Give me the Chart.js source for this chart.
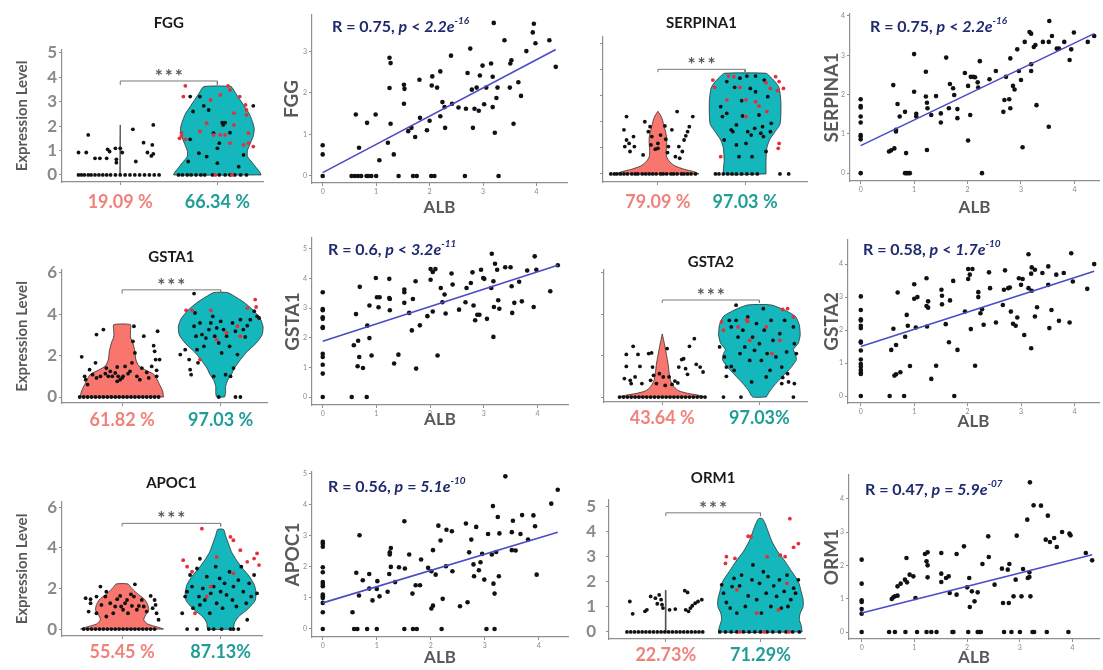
<!DOCTYPE html>
<html>
<head>
<meta charset="utf-8">
<script src="https://cdn.jsdelivr.net/npm/chart.js@4.4.0/dist/chart.umd.min.js"></script>
<style>
html, body { margin: 0; padding: 0; background: #fff; width: 1103px; height: 670px; overflow: hidden; }
canvas { position: absolute; left: 0; top: 0; }
</style>
</head>
<body>
<script>
// ---------- data ----------

// FGG
const fggPct = ['19.09 %', '66.34 %'];
const fggRedY = [0, 2.05];
const fggRedW = [0.004, 0.002];
const fggTealY = [0, 0.1, 0.25, 0.5, 0.75, 1.0, 1.3, 1.6, 1.9, 2.2, 2.5, 2.8, 3.1, 3.4, 3.62];
const fggTealW = [0.45, 0.44, 0.41, 0.36, 0.31, 0.31, 0.34, 0.37, 0.38, 0.36, 0.33, 0.28, 0.23, 0.18, 0.14];
const fggRedPts = [[0.57,0],[0.6,0],[0.63,0],[0.67,0],[0.7,0],[0.74,0],[0.78,0],[0.82,0],[0.86,0],[0.9,0],[0.95,0],[1.0,0],[1.05,0],[1.1,0],[1.15,0],[1.2,0],[1.25,0],[1.3,0],[1.35,0],[1.4,0],
  [0.67,1.64],[0.57,0.92],[0.65,0.92],[0.74,0.68],[0.79,0.68],[0.86,0.68],[0.87,1.05],[0.89,0.96],[0.95,1.09],[0.96,0.5],[0.96,0.64],[1.0,1.09],[1.02,0.92],[1.13,1.87],[1.16,0.55],[1.24,1.32],[1.28,0.92],[1.33,1.23],[1.32,0.78],[1.34,2.05],[1.34,0.86]];
const fggTealPts = [[1.6,0],[1.64,0],[1.69,0],[1.73,0],[1.78,0],[1.83,0],[1.87,0],[1.95,0],[2.02,0],[2.08,0],[2.13,0],[2.18,0],[2.24,0],[2.3,0],
  [1.72,1.46],[1.75,2.6],[1.72,3.21],[1.82,3.21],[1.86,2.83],[1.91,2.66],[2.05,2.14],[2.06,2.05],[2.08,2.14],[2.13,1.73],[2.37,2.83],[1.89,0.75],[1.81,0.89],[2.0,1.09],[2.0,0.48],[2.27,0.82],[2.22,0.34],[2.02,1.3],[1.96,1.71],[1.7,0.55]];
const fggTealRed = [[1.67,3.65],[1.65,3.21],[1.63,1.73],[1.61,1.5],[1.63,1.6],[1.67,1.46],[2.03,3.28],[2.11,3.65],[2.13,3.48],[2.23,3.21],[2.29,2.87],[2.3,2.66],[2.3,2.46],[2.32,1.71],[2.27,1.23],[2.37,1.16],[2.32,1.3],[1.96,1.64],[2.03,1.64],[2.08,1.64],[1.89,2.12],[2.17,2.05],[1.82,1.78],[1.93,3.07],[2.17,2.53],[2.13,1.3],[1.98,0],[2.15,0]];
const fggScatter = [[0,0],[0.54,0],[0.6,0],[0.66,0],[0.72,0],[0.82,0],[0.85,0],[0.91,0],[1.0,0],[1.42,0],[1.69,0],[1.76,0],[2.03,0],[2.09,0],[2.66,0],[3.29,0],
  [0,0.74],[0,0.52],[0.62,1.48],[0.68,0.68],[0.83,1.28],[0.99,1.48],[1.06,0.38],[1.22,0.8],[1.25,2.12],[1.25,2.85],[1.27,2.72],[1.27,1.26],[1.33,0.52],[1.52,2.2],[1.53,2.1],[1.52,1.74],[1.6,1.08],[1.66,1.16],[1.73,0.94],[1.81,2.32],[1.82,1.4],[1.95,1.1],[2.0,1.33],[2.05,2.4],[2.04,2.18],[2.14,2.13],[2.2,2.52],[2.2,1.44],[2.24,1.78],[2.28,1.66],[2.29,1.16],[2.4,2.9],[2.42,1.74],[2.54,1.65],[2.68,1.62],[2.71,2.48],[2.76,3.07],[2.79,2.08],[2.81,1.16],[2.84,1.62],[2.88,2.13],[2.92,1.57],[2.94,2.42],[2.99,2.66],[3.02,1.73],[3.06,2.13],[3.15,2.71],[3.18,2.39],[3.18,1.66],[3.2,3.69],[3.22,1.04],[3.25,1.88],[3.27,2.13],[3.4,3.27],[3.5,2.13],[3.51,2.71],[3.53,2.79],[3.57,1.26],[3.66,2.26],[3.71,1.93],[3.81,3.01],[3.93,3.46],[3.95,3.67],[3.98,3.2],[4.24,3.27],[4.36,2.63]];
const fggFit = [[0,0.08],[4.36,3.05]];
const fggStat = ['0.75', '<', '2.2', '-16'];

// SERPINA1
const serpPct = ['79.09 %', '97.03 %'];
const serpRedY = [0, 0.08, 0.18, 0.3, 0.45, 0.65, 0.9, 1.15, 1.4, 1.65, 1.9, 2.1, 2.25, 2.4];
const serpRedW = [0.47, 0.42, 0.3, 0.2, 0.14, 0.1, 0.095, 0.1, 0.1, 0.085, 0.065, 0.05, 0.03, 0];
const serpTealY = [0, 0.5, 1.0, 1.3, 1.6, 1.9, 2.3, 2.8, 3.3, 3.55, 3.75, 3.86];
const serpTealW = [0.24, 0.24, 0.25, 0.28, 0.34, 0.4, 0.41, 0.41, 0.39, 0.34, 0.28, 0.24];
const serpRedPts = [[0.46,0],[0.5,0],[0.53,0],[0.57,0],[0.61,0],[0.65,0],[0.7,0],[0.74,0],[0.77,0],[0.82,0],[0.86,0],[0.9,0],[0.94,0],[0.98,0],[1.03,0],[1.06,0],[1.1,0],[1.15,0],[1.18,0],[1.22,0],[1.27,0],[1.3,0],[1.34,0],[1.38,0],[1.43,0],
  [0.64,2.2],[0.61,1.69],[0.64,1.3],[0.62,1.05],[0.67,1.17],[0.72,1.43],[0.73,1.05],[0.68,0.86],[0.85,2.0],[0.89,1.62],[0.91,1.81],[0.92,1.11],[0.97,0.95],[1.0,1.17],[1.03,1.49],[1.08,1.84],[1.09,1.33],[1.12,1.05],[1.11,0.82],[1.16,1.69],[1.22,2.39],[1.2,0.66],[1.25,0.6],[1.28,0.86],[1.3,1.3],[1.32,1.46],[1.34,1.62],[1.36,1.81],[1.4,2.2],[1.24,1.05],[1.0,0.98],[0.93,1.43],[0.83,0.73]];
const serpTealPts = [[1.66,0],[1.7,0],[1.75,0],[1.8,0],[1.85,0],[1.9,0],[1.96,0],[2.02,0],[2.08,0],[2.14,0],[2.4,0],[2.5,0],
  [1.72,2.58],[1.74,2.2],[1.79,2.32],[1.84,1.69],[1.9,1.88],[1.93,0.66],[1.96,2.81],[1.97,2.22],[2.01,1.17],[2.03,1.62],[2.06,3.28],[2.07,1.49],[2.11,1.75],[2.12,3.15],[2.16,2.26],[2.18,1.56],[2.2,1.81],[2.21,1.43],[2.24,0.86],[2.26,2.96],[2.29,1.62],[2.3,1.94],[1.79,3.54],[1.88,3.32],[1.94,3.67],[2.02,3.75],[2.12,3.75],[2.22,3.6],[1.86,1.62],[1.9,1.11],[2.08,0.66],[1.76,1.3]];
const serpTealRed = [[1.63,3.6],[1.65,3.32],[1.72,0.66],[1.81,3.75],[1.87,3.73],[1.94,3.32],[2.01,2.84],[2.12,2.77],[2.16,2.6],[2.24,3.5],[2.29,3.28],[2.35,3.73],[2.39,3.54],[2.39,1.17],[2.38,0.98],[2.44,3.28],[2.37,3.19],[2.25,2.39],[2.01,2.2],[1.79,2.84]];
const serpScatter = [[0,0],[0.83,0],[0.86,0],[0.89,0],[0.92,0],[2.27,0],
  [0,1.88],[0,1.71],[0,1.67],[0,1.44],[0,1.29],[0,0.97],[0,0.93],[0,0.86],
  [0.53,0.55],[0.57,0.58],[0.63,0.63],[0.61,2.24],[0.66,1.06],[0.66,1.1],[0.69,1.76],[0.73,1.44],[0.83,1.56],[0.85,0.51],[1.0,3.03],[1.0,2.07],[1.04,1.51],[1.04,1.44],[1.22,2.58],[1.22,1.95],[1.24,1.79],[1.25,1.65],[1.24,0.59],[1.32,1.48],[1.41,1.96],[1.5,1.52],[1.5,1.29],[1.6,2.94],[1.65,1.65],[1.67,2.27],[1.73,2.16],[1.75,1.99],[1.81,1.63],[1.81,1.4],[1.95,2.55],[2.01,2.22],[2.01,0.83],[2.05,1.48],[2.06,2.45],[2.11,2.45],[2.14,2.44],[2.19,2.31],[2.2,2.18],[2.23,2.85],[2.41,2.39],[2.53,2.6],[2.69,1.86],[2.67,1.56],[2.72,2.45],[2.78,1.88],[2.8,1.65],[2.8,2.92],[2.85,2.22],[2.88,2.13],[2.93,3.15],[2.96,2.6],[3.0,2.37],[3.03,0.66],[3.07,3.34],[3.16,3.59],[3.19,3.55],[3.19,2.77],[3.19,2.6],[3.24,3.21],[3.27,3.26],[3.29,1.73],[3.41,3.34],[3.52,3.34],[3.52,1.18],[3.53,3.87],[3.58,3.49],[3.67,3.17],[3.71,3.17],[3.81,3.34],[3.91,2.88],[3.94,3.15],[3.99,3.58],[4.25,3.34],[4.37,3.49]];
const serpFit = [[0,0.7],[4.37,3.55]];
const serpStat = ['0.75', '<', '2.2', '-16'];

// GSTA1
const gsta1Pct = ['61.82 %', '97.03 %'];
const gsta1RedY = [0, 0.3, 0.6, 0.9, 1.1, 1.3, 1.5, 1.8, 2.2, 2.6, 2.9, 3.2, 3.5];
const gsta1RedW = [0.42, 0.41, 0.38, 0.35, 0.32, 0.24, 0.17, 0.14, 0.13, 0.11, 0.085, 0.085, 0.085];
const gsta1TealY = [0, 0.2, 0.5, 0.8, 1.1, 1.4, 1.8, 2.2, 2.6, 3.0, 3.4, 3.8, 4.2, 4.6, 4.9, 5.05];
const gsta1TealW = [0.04, 0.05, 0.05, 0.07, 0.11, 0.14, 0.2, 0.27, 0.36, 0.42, 0.43, 0.4, 0.33, 0.23, 0.13, 0.07];
const gsta1RedPts = [[0.57,0],[0.61,0],[0.65,0],[0.69,0],[0.73,0],[0.77,0],[0.81,0],[0.85,0],[0.89,0],[0.93,0],[0.97,0],[1.01,0],[1.05,0],[1.09,0],[1.13,0],[1.17,0],[1.21,0],[1.25,0],[1.29,0],[1.33,0],[1.37,0],
  [0.59,1.94],[0.62,1.0],[0.63,0.84],[0.65,0.6],[0.67,1.32],[0.7,1.08],[0.73,1.65],[0.74,3.02],[0.74,0.92],[0.78,1.0],[0.81,3.26],[0.83,1.13],[0.84,1.4],[0.86,1.0],[0.88,1.24],[0.93,1.16],[0.95,1.45],[0.96,1.0],[0.98,0.84],[1.0,0.92],[1.01,1.0],[1.03,1.48],[1.06,1.13],[1.08,1.24],[1.1,1.65],[1.11,2.69],[1.12,3.42],[1.13,2.13],[1.15,1.0],[1.18,0.84],[1.2,1.4],[1.22,2.94],[1.25,1.19],[1.27,0.92],[1.3,1.48],[1.32,2.48],[1.33,2.21],[1.34,1.81],[1.35,1.29],[1.35,1.0],[1.36,3.18],[1.38,1.81],[0.9,1.0],[0.95,0.76]];
const gsta1TealPts = [[1.98,0],[2.15,0],[2.2,0],
  [1.59,2.05],[1.64,2.29],[1.68,1.81],[1.69,1.32],[1.7,1.08],[1.73,3.42],[1.74,4.06],[1.75,2.94],[1.76,2.29],[1.77,1.65],[1.79,3.58],[1.81,3.02],[1.83,2.45],[1.85,2.85],[1.88,3.26],[1.9,3.58],[1.92,3.9],[1.94,2.94],[1.96,3.34],[1.98,2.61],[2.0,3.66],[2.01,2.13],[2.03,3.26],[2.05,1.08],[2.06,2.94],[2.09,2.45],[2.12,3.58],[2.13,1.4],[2.15,3.18],[2.17,2.05],[2.2,3.74],[2.23,3.26],[2.25,2.9],[2.27,3.45],[2.3,3.74],[2.34,4.15],[2.37,3.9],[2.39,3.82],[1.73,5.0],[1.93,1.0],[2.1,1.0]];
const gsta1TealRed = [[1.65,4.19],[1.71,4.19],[1.9,4.19],[1.96,2.77],[2.06,3.1],[2.2,2.94],[2.27,4.3],[2.35,4.71],[2.17,3.42],[1.79,1.81],[2.36,4.35]];
const gsta1Scatter = [[0,3.54],[0,2.97],[0,2.93],[0,2.69],[0,2.64],[0,2.36],[0,2.33],[0,1.46],[0,1.35],[0,1.09],[0,0.79],[0,0],[0.54,0],[0.82,0],
  [0.58,1.75],[0.62,2.8],[0.65,1.04],[0.66,1.9],[0.68,1.35],[0.69,3.72],[0.75,0.98],[0.83,2.41],[0.87,3.09],[0.87,1.99],[0.91,1.4],[0.99,4.02],[1.01,3.37],[1.04,3.03],[1.06,3.37],[1.24,3.99],[1.24,3.34],[1.25,3.31],[1.25,2.93],[1.33,1.13],[1.41,1.43],[1.52,3.63],[1.52,3.54],[1.52,3.18],[1.61,2.84],[1.66,2.25],[1.68,3.31],[1.73,3.91],[1.74,0.96],[1.81,2.42],[1.95,2.73],[2.01,3.96],[2.01,4.32],[2.05,4.22],[2.1,4.32],[2.05,2.89],[2.14,1.4],[2.2,3.68],[2.23,3.2],[2.27,3.46],[2.29,2.82],[2.4,4.17],[2.42,3.8],[2.54,2.95],[2.66,3.2],[2.68,3.68],[2.76,3.85],[2.79,4.21],[2.81,3.09],[2.84,2.59],[2.88,2.78],[2.92,2.78],[2.95,4.3],[2.99,4.02],[3.01,3.99],[3.06,2.64],[3.14,3.68],[3.15,4.84],[3.18,3.91],[3.18,2.03],[3.19,3.04],[3.21,4.5],[3.25,4.3],[3.27,3.27],[3.29,2.98],[3.4,4.38],[3.5,4.38],[3.52,3.74],[3.53,2.84],[3.57,3.18],[3.66,3.89],[3.71,3.23],[3.81,4.27],[3.93,3.04],[3.95,4.75],[3.98,4.3],[4.24,3.57],[4.38,4.45]];
const gsta1Fit = [[0,1.88],[4.38,4.45]];
const gsta1Stat = ['0.6', '<', '3.2', '-11'];

// GSTA2
const gsta2Pct = ['43.64 %', '97.03%'];
const gsta2RedY = [0, 0.08, 0.18, 0.3, 0.5, 0.8, 1.2, 1.6, 2.0, 2.5, 3.05];
const gsta2RedW = [0.45, 0.38, 0.26, 0.17, 0.12, 0.085, 0.07, 0.06, 0.045, 0.025, 0];
const gsta2TealY = [0, 0.3, 0.6, 1.0, 1.4, 1.8, 2.1, 2.3, 2.6, 3.0, 3.5, 3.9, 4.2, 4.45];
const gsta2TealW = [0.07, 0.11, 0.16, 0.24, 0.32, 0.38, 0.37, 0.35, 0.4, 0.42, 0.41, 0.37, 0.26, 0.12];
const gsta2RedPts = [[0.56,0],[0.6,0],[0.64,0],[0.68,0],[0.72,0],[0.76,0],[0.8,0],[0.84,0],[0.88,0],[0.92,0],[0.96,0],[1.0,0],[1.04,0],[1.08,0],[1.12,0],[1.16,0],[1.2,0],[1.24,0],[1.28,0],[1.32,0],[1.36,0],[1.4,0],[1.44,0],
  [0.63,2.06],[0.63,1.48],[0.61,0.89],[0.67,0.81],[0.68,0.65],[0.72,0.97],[0.7,2.45],[0.75,2.06],[0.77,1.48],[0.79,0.65],[0.86,2.1],[0.88,0.81],[0.89,2.13],[0.9,1.45],[0.91,1.05],[0.94,0.65],[0.97,1.13],[1.01,0.97],[1.03,0.56],[1.05,2.34],[1.07,0.97],[1.1,0.61],[1.13,0.77],[1.16,0.68],[1.17,1.45],[1.2,1.81],[1.22,1.85],[1.24,1.37],[1.26,1.1],[1.28,2.45],[1.33,2.82],[1.35,1.58],[1.39,1.45],[1.42,1.21]];
const gsta2TealPts = [[1.63,0],[1.81,0],[2.35,0],
  [1.59,2.42],[1.64,1.94],[1.66,1.45],[1.71,1.48],[1.74,1.29],[1.66,1.0],[1.71,3.39],[1.76,3.71],[1.78,2.9],[1.8,2.1],[1.83,3.23],[1.85,2.42],[1.88,3.87],[1.9,1.77],[1.92,0.73],[1.93,2.9],[1.95,2.26],[1.97,3.55],[2.0,2.58],[2.02,1.77],[2.04,4.27],[2.05,3.23],[2.08,2.1],[2.11,1.29],[2.12,3.71],[2.14,2.74],[2.17,1.94],[2.21,3.06],[2.23,1.45],[2.26,3.71],[2.28,2.18],[2.29,1.13],[2.35,3.39],[2.36,2.58],[2.38,2.1],[1.76,4.44],[1.69,3.71],[2.07,0.97],[2.24,0.94],[2.3,0.73],[2.23,0.65],[2.36,0.65]];
const gsta2TealRed = [[1.61,3.63],[1.63,3.23],[1.87,3.74],[1.88,3.66],[2.07,3.39],[2.24,4.23],[2.29,4.27],[2.35,3.87],[2.13,2.1],[1.9,2.74],[1.78,3.39],[2.21,2.74]];
const gsta2Scatter = [[0,3.02],[0,2.61],[0,2.33],[0,2.29],[0,2.13],[0,2.06],[0,1.65],[0,1.62],[0,1.38],[0,1.11],[0,0.97],[0,0.89],[0,0.79],[0,0.71],[0,0.67],[0,0],[0.54,0],[0.81,0],[1.75,0],
  [0.57,1.4],[0.61,2.04],[0.63,0.62],[0.66,1.55],[0.69,3.14],[0.66,0.66],[0.74,0.72],[0.83,1.8],[0.86,2.46],[0.88,2.13],[0.92,0.91],[1.0,3.39],[1.0,2.95],[1.03,2.08],[1.06,3.0],[1.23,3.57],[1.23,2.73],[1.24,2.11],[1.26,2.87],[1.26,2.68],[1.32,0.52],[1.41,0.92],[1.51,3.22],[1.52,3.04],[1.52,2.78],[1.59,2.18],[1.65,1.63],[1.67,2.9],[1.73,3.49],[1.81,1.4],[1.95,2.56],[2.01,3.85],[2.01,3.55],[2.04,3.68],[2.09,3.85],[2.06,2.03],[2.14,0.92],[2.2,3.15],[2.2,3.0],[2.24,2.51],[2.27,2.63],[2.3,2.16],[2.4,3.75],[2.42,3.27],[2.53,2.23],[2.66,2.76],[2.68,3.22],[2.7,3.81],[2.76,3.27],[2.79,3.29],[2.81,2.56],[2.85,2.19],[2.9,2.13],[2.93,2.38],[2.96,3.57],[3.0,3.37],[3.03,3.55],[3.06,1.85],[3.14,4.3],[3.14,3.27],[3.19,1.45],[3.19,3.71],[3.2,3.9],[3.2,3.19],[3.26,3.83],[3.26,2.41],[3.3,2.69],[3.4,3.73],[3.51,3.93],[3.51,3.37],[3.53,2.06],[3.57,2.61],[3.66,3.68],[3.71,2.28],[3.8,3.73],[3.91,2.23],[3.94,4.33],[3.97,3.47],[4.24,3.25],[4.37,4.0]];
const gsta2Fit = [[0,1.5],[4.37,3.78]];
const gsta2Stat = ['0.58', '<', '1.7', '-10'];

// APOC1
const apocPct = ['55.45 %', '87.13%'];
const apocRedY = [0, 0.1, 0.25, 0.45, 0.7, 0.95, 1.2, 1.45, 1.65, 1.85, 2.05, 2.22];
const apocRedW = [0.42, 0.36, 0.26, 0.22, 0.24, 0.27, 0.26, 0.23, 0.18, 0.13, 0.09, 0.06];
const apocTealY = [0, 0.3, 0.6, 1.0, 1.4, 1.8, 2.2, 2.6, 3.0, 3.4, 3.8, 4.2, 4.6, 4.9];
const apocTealW = [0.13, 0.14, 0.18, 0.28, 0.35, 0.36, 0.34, 0.29, 0.22, 0.16, 0.11, 0.08, 0.05, 0.03];
const apocRedPts = [[0.61,0],[0.65,0],[0.69,0],[0.73,0],[0.77,0],[0.81,0],[0.85,0],[0.89,0],[0.93,0],[0.97,0],[1.01,0],[1.05,0],[1.09,0],[1.13,0],[1.17,0],[1.21,0],[1.25,0],[1.29,0],[1.33,0],
  [0.63,1.52],[0.68,1.47],[0.68,1.27],[0.66,0.86],[0.74,0.78],[0.74,1.6],[0.78,2.09],[0.79,1.19],[0.83,1.6],[0.84,1.84],[0.88,1.27],[0.91,0.78],[0.93,1.11],[0.95,1.47],[0.98,1.63],[0.99,1.11],[1.01,0.95],[1.03,1.27],[1.05,1.43],[1.06,0.78],[1.09,1.71],[1.1,1.14],[1.12,1.6],[1.13,2.2],[1.15,0.95],[1.17,1.14],[1.2,1.43],[1.22,1.11],[1.25,0.86],[1.29,1.63],[1.31,1.03],[1.33,1.43],[1.34,1.19],[1.35,0.78],[1.37,0.46],[0.84,0.62]];
const apocTealPts = [[1.66,0],[1.76,0],[1.88,0],[1.93,0],[2.01,0],[2.1,0],[2.13,0],[2.18,0],
  [1.61,0.78],[1.64,1.6],[1.66,1.84],[1.69,2.66],[1.71,2.09],[1.72,1.03],[1.76,2.98],[1.78,1.6],[1.79,1.19],[1.82,2.0],[1.84,1.43],[1.86,2.58],[1.89,0.78],[1.9,1.76],[1.93,2.09],[1.95,3.07],[1.96,1.27],[1.99,2.49],[2.0,1.84],[2.02,1.03],[2.04,2.25],[2.06,1.68],[2.09,2.82],[2.12,1.43],[2.13,2.09],[2.16,1.11],[2.18,2.41],[2.21,3.07],[2.23,1.84],[2.26,1.27],[2.29,2.25],[2.31,1.6],[2.34,2.66],[2.37,1.76],[2.27,0.46],[1.79,3.46]];
const apocTealRed = [[1.81,4.94],[1.62,3.39],[1.66,3.07],[1.71,2.82],[2.1,4.53],[2.13,4.37],[2.2,3.88],[2.27,3.31],[2.34,3.47],[2.37,3.72],[2.39,3.15],[1.96,3.55],[1.9,2.09],[2.13,2.74],[1.74,0.78],[1.86,1.6]];
const apocScatter = [[0,2.81],[0,2.75],[0,2.65],[0,1.99],[0,1.83],[0,1.51],[0,1.45],[0,1.38],[0,1.11],[0,1.05],[0,1.0],[0,0.84],[0,0.54],[0,0],
  [0.55,0.54],[0.58,0],[0.64,0],[0.82,0],[1.0,0],[1.51,0],[1.67,0],[1.74,0],[2.2,0],[3.03,0],[3.18,0],
  [0.62,1.81],[0.67,1.08],[0.68,3.02],[0.74,1.57],[0.86,1.77],[0.86,1.3],[0.92,0.92],[1.0,1.29],[1.01,1.54],[1.05,1.05],[1.2,1.2],[1.23,1.77],[1.24,2.4],[1.26,2.61],[1.24,2.47],[1.26,2.0],[1.34,1.51],[1.41,1.99],[1.51,3.47],[1.52,1.95],[1.6,2.4],[1.66,1.14],[1.72,1.41],[1.8,1.41],[1.82,2.24],[1.95,1.97],[2.01,1.86],[2.01,0.66],[2.04,0.75],[2.04,2.54],[2.09,1.75],[2.14,3.33],[2.18,2.85],[2.22,0.97],[2.28,2.02],[2.29,3.2],[2.39,3.15],[2.4,1.86],[2.54,0.73],[2.65,3.4],[2.68,0.86],[2.71,2.47],[2.75,2.88],[2.8,1.7],[2.79,2.08],[2.84,3.29],[2.89,1.89],[2.92,2.15],[2.95,2.42],[2.99,1.59],[3.06,3.06],[3.13,2.4],[3.15,3.96],[3.16,1.46],[3.18,1.14],[3.21,2.48],[3.24,3.61],[3.26,1.7],[3.27,3.08],[3.38,4.92],[3.5,3.12],[3.52,3.49],[3.5,2.54],[3.57,2.53],[3.66,3.06],[3.69,3.67],[3.8,2.88],[3.9,3.66],[3.93,3.31],[3.96,1.75],[4.23,4.04],[4.35,4.49]];
const apocFit = [[0,0.84],[4.35,3.12]];
const apocStat = ['0.56', '=', '5.1', '-10'];

// ORM1
const ormPct = ['22.73%', '71.29%'];
const ormRedY = [0, 1.65];
const ormRedW = [0.004, 0.002];
const ormTealY = [0, 0.25, 0.5, 0.75, 1.0, 1.3, 1.6, 2.0, 2.4, 2.8, 3.2, 3.6, 4.0, 4.3, 4.5];
const ormTealW = [0.44, 0.43, 0.41, 0.42, 0.45, 0.45, 0.43, 0.4, 0.33, 0.26, 0.18, 0.12, 0.08, 0.05, 0.02];
const ormRedPts = [[0.59,0],[0.63,0],[0.67,0],[0.71,0],[0.75,0],[0.79,0],[0.83,0],[0.87,0],[0.91,0],[0.95,0],[0.99,0],[1.03,0],[1.07,0],[1.11,0],[1.15,0],[1.19,0],[1.23,0],[1.27,0],[1.31,0],[1.35,0],[1.39,0],
  [0.62,1.21],[0.65,0.72],[0.78,0.82],[0.8,0.88],[0.84,1.41],[0.89,1.34],[0.91,1.12],[0.93,1.47],[0.95,1.28],[0.96,1.08],[0.97,0.95],[1.04,0.88],[1.1,0.91],[1.2,1.64],[1.23,1.57],[1.21,0.88],[1.24,0.82],[1.26,0.95],[1.28,1.04],[1.31,1.14],[1.34,1.21],[1.38,1.28]];
const ormTealPts = [[1.57,0],[1.63,0],[1.69,0],[1.75,0],[1.82,0],[1.88,0],[1.94,0],[2.0,0],[2.07,0],[2.13,0],[2.2,0],[2.27,0],[2.34,0],[2.41,0],
  [1.59,1.87],[1.61,1.54],[1.64,1.17],[1.68,0.95],[1.7,1.8],[1.72,2.13],[1.75,0.75],[1.78,1.83],[1.8,2.26],[1.84,1.01],[1.87,1.43],[1.91,2.07],[1.92,2.66],[1.96,1.28],[1.99,1.93],[2.01,0.75],[2.03,2.39],[2.06,1.54],[2.08,2.2],[2.11,1.01],[2.14,1.83],[2.17,1.41],[2.2,2.07],[2.22,0.95],[2.25,1.61],[2.28,2.26],[2.29,1.01],[2.32,1.28],[2.35,1.74],[2.37,1.54],[2.4,2.07]];
const ormTealRed = [[1.63,2.72],[1.64,2.99],[1.73,2.92],[1.87,3.8],[1.9,3.78],[2.21,3.05],[2.26,2.99],[2.31,4.5],[2.35,3.36],[2.4,3.51],[1.75,1.67],[1.96,0.75],[2.07,2.99],[2.19,0.88],[2.28,1.93],[1.78,0],[2.04,0],[2.3,0]];
const ormScatter = [[0,2.17],[0,1.45],[0,0.95],[0,0.9],[0,0.69],[0,0.55],[0,0],
  [0.52,0],[0.63,0],[0.83,0],[1.05,0],[1.23,0],[1.32,0],[1.42,0],[1.72,0],[1.74,0],[2.02,0],[2.2,0],[2.23,0],[2.26,0],[2.7,0],[2.84,0],[3.0,0],[3.24,0],[3.27,0],[3.51,0],[3.92,0],
  [0.57,0.99],[0.6,1.04],[0.63,1.07],[0.68,1.09],[0.68,1.37],[0.74,1.45],[0.82,1.57],[0.85,2.22],[0.86,1.49],[0.91,1.72],[0.98,1.67],[1.02,1.02],[1.2,2.34],[1.23,2.12],[1.25,2.39],[1.25,2.0],[1.25,1.64],[1.51,2.37],[1.51,1.75],[1.51,1.5],[1.6,1.62],[1.65,1.67],[1.67,1.17],[1.8,2.34],[1.8,1.12],[1.94,2.57],[2.0,1.34],[2.04,1.62],[2.05,0.75],[2.09,1.22],[2.14,0.92],[2.2,1.19],[2.29,2.04],[2.4,2.87],[2.41,2.25],[2.52,1.42],[2.66,1.9],[2.68,0.87],[2.77,1.87],[2.79,0.87],[2.8,2.04],[2.88,1.07],[2.92,1.57],[2.94,2.89],[3.03,1.07],[3.06,1.89],[3.14,3.37],[3.15,1.62],[3.19,4.49],[3.18,1.65],[3.18,1.79],[3.2,1.07],[3.26,3.8],[3.4,3.79],[3.49,2.77],[3.53,3.49],[3.57,2.7],[3.65,2.82],[3.7,2.55],[3.8,3.0],[3.94,2.95],[3.96,2.9],[4.25,2.37],[4.37,2.15]];
const ormFit = [[0,0.57],[4.37,2.32]];
const ormStat = ['0.47', '=', '5.9', '-07'];

// ---------- drawing ----------
const W = 1103, H = 670;
const FONT = 'Lato, "Open Sans", sans-serif';
const RED = '#F8766D', TEAL = '#14B8BC';
const RED_TXT = '#F0827C', TEAL_TXT = '#1F9E97';
const DOT_RED = '#E3303B', NAVY = '#1F2A6E', FIT_BLUE = '#4B4BC6', AXIS = '#8f8f8f';

const toXY = a => a.map(p => ({x: p[0], y: p[1]}));

function outline(c, ys, ws) {
  const pts = [];
  for (let i = 0; i < ys.length; i++) pts.push({x: c + ws[i], y: ys[i]});
  for (let i = ys.length - 1; i >= 0; i--) pts.push({x: c - ws[i], y: ys[i]});
  pts.push({x: c + ws[0], y: ys[0]});
  return pts;
}

function bracket(top, foot) {
  return [{x: 1, y: foot}, {x: 1, y: top}, {x: 2, y: top}, {x: 2, y: foot}];
}

function addCanvas() {
  const cv = document.createElement('canvas');
  cv.width = W; cv.height = H;
  document.body.appendChild(cv);
  return cv;
}

function vertText(ctx, text, x, y, font, color) {
  ctx.save();
  ctx.translate(x, y);
  ctx.rotate(-Math.PI / 2);
  ctx.font = font; ctx.fillStyle = color;
  ctx.textAlign = 'center'; ctx.textBaseline = 'middle';
  ctx.fillText(text, 0, 0);
  ctx.restore();
}

const panelText = {
  id: 'panelText',
  afterDraw(chart, args, o) {
    const ctx = chart.ctx, a = chart.chartArea;
    const xs = chart.scales.x, ys = chart.scales.y;
    ctx.save();
    ctx.textAlign = 'center'; ctx.textBaseline = 'middle';
    if (o.title) {
      ctx.font = 'bold 15px ' + FONT; ctx.fillStyle = '#1a1a1a';
      ctx.fillText(o.title, xs.getPixelForValue(1.5), o.titleY);
    }
    if (o.stars != null) {
      // three significance stars, a little apart, just above the bracket
      ctx.font = 'bold 19px ' + FONT; ctx.fillStyle = '#5a5a5a';
      const mx = xs.getPixelForValue(1.5), sy = ys.getPixelForValue(o.stars) - 4;
      for (const d of [-10, 0, 10]) ctx.fillText('*', mx + d, sy);
    }
    if (o.yTitle) vertText(ctx, o.yTitle, o.yTitleX, (a.top + a.bottom) / 2, o.yTitleFont, '#595959');
    if (o.xTitle) {
      ctx.font = 'bold 17px ' + FONT; ctx.fillStyle = '#595959';
      ctx.fillText(o.xTitle, (a.left + a.right) / 2, o.xTitleY);
    }
    if (o.stat) {
      const [r, op, p, ex] = o.stat;
      const parts = [['R = ' + r + ', ', false, false], ['p', true, false], [' ' + op + ' ', false, false], [p + 'e', true, false], [ex, true, true]];
      let cx = o.statX;
      ctx.textAlign = 'left'; ctx.fillStyle = NAVY;
      for (const [t, it, sup] of parts) {
        ctx.font = (it ? 'italic ' : '') + 'bold ' + (sup ? 10 : 16) + 'px ' + FONT;
        ctx.fillText(t, cx, sup ? o.statY - 6 : o.statY);
        cx += ctx.measureText(t).width;
      }
    }
    ctx.restore();
  }
};

function baseOptions(box, xr, yr) {
  return {
    responsive: false,
    animation: false,
    events: [],
    devicePixelRatio: 1,
    layout: {padding: {left: box.l - 40, top: box.t, right: W - box.r, bottom: H - box.b - 40}},
    scales: {
      x: {
        type: 'linear', min: xr[0], max: xr[1],
        afterFit: s => { s.height = 40; },
        grid: {drawOnChartArea: false, drawTicks: true, tickLength: 3, color: AXIS},
        border: {color: AXIS, width: 1.2}
      },
      y: {
        type: 'linear', min: yr[0], max: yr[1],
        afterFit: s => { s.width = 40; },
        grid: {drawOnChartArea: false, drawTicks: true, tickLength: 3, color: AXIS},
        border: {color: AXIS, width: 1.2}
      }
    }
  };
}

function violinShape(c, ys, ws, color) {
  // a group with (almost) no spread is drawn as a bare grey line, as in the figure
  const thin = Math.max.apply(null, ws) < 0.02;
  return {
    type: 'line', data: outline(c, ys, ws),
    fill: thin ? false : 'shape', backgroundColor: color,
    borderColor: thin ? '#555' : '#2e2e2e', borderWidth: thin ? 1 : 0.8,
    pointRadius: 0, tension: thin ? 0 : 0.2, order: 5
  };
}

function violinPanel(p) {
  const datasets = [
    {data: toXY(p.tealRed), pointRadius: 1.9, backgroundColor: DOT_RED, borderWidth: 0, order: 0},
    {data: toXY(p.tealPts), pointRadius: 1.9, backgroundColor: '#111', borderWidth: 0, order: 1},
    {data: toXY(p.redPts), pointRadius: 1.9, backgroundColor: '#111', borderWidth: 0, order: 1},
    {type: 'line', data: bracket(p.bracket[0], p.bracket[1]), borderColor: '#7a7a7a', borderWidth: 1, pointRadius: 0, fill: false, tension: 0, order: 2},
    violinShape(2, p.tealY, p.tealW, TEAL),
    violinShape(1, p.redY, p.redW, RED)
  ];
  const opt = baseOptions(p.box, p.xr, p.yr);
  opt.scales.x.afterBuildTicks = s => { s.ticks = [{value: 1}, {value: 2}]; };
  opt.scales.x.ticks = {
    callback: v => (v === 1 ? p.pct[0] : p.pct[1]),
    color: [RED_TXT, TEAL_TXT], autoSkip: false, maxRotation: 0,
    padding: p.pctPad, font: {family: FONT, size: 18, weight: 'bold'}
  };
  opt.scales.y.afterBuildTicks = s => { s.ticks = p.yTicks.map(v => ({value: v})); };
  opt.scales.y.ticks = {
    display: p.yLabels, color: '#8a8a8a', padding: p.yPad,
    font: {family: FONT, size: 17, weight: 'bold'}
  };
  opt.plugins = {
    legend: {display: false}, tooltip: {enabled: false},
    panelText: {
      title: p.title, titleY: p.titleY, stars: p.bracket[0],
      yTitle: p.yLabels && p.yPad < 6 ? 'Expression Level' : null,
      yTitleX: 22, yTitleFont: 'bold 15px ' + FONT
    }
  };
  new Chart(addCanvas(), {type: 'scatter', data: {datasets}, options: opt, plugins: [panelText]});
}

function scatterPanel(p) {
  const datasets = [
    {type: 'line', data: toXY(p.fit), borderColor: FIT_BLUE, borderWidth: 1.6, pointRadius: 0, fill: false, order: 0},
    {data: toXY(p.pts), pointRadius: 2.3, backgroundColor: '#111', borderWidth: 0, order: 1}
  ];
  const opt = baseOptions(p.box, p.xr, p.yr);
  const small = {color: '#8a8a8a', padding: 2, font: {family: FONT, size: 7}};
  opt.scales.x.afterBuildTicks = s => { s.ticks = [0, 1, 2, 3, 4].map(v => ({value: v})); };
  opt.scales.x.ticks = small;
  opt.scales.y.afterBuildTicks = s => { s.ticks = p.yTicks.map(v => ({value: v})); };
  opt.scales.y.ticks = small;
  opt.plugins = {
    legend: {display: false}, tooltip: {enabled: false},
    panelText: {
      yTitle: p.yTitle, yTitleX: p.yTitleX, yTitleFont: 'bold 19px ' + FONT,
      xTitle: 'ALB', xTitleY: p.xTitleY,
      stat: p.stat, statX: p.statX, statY: p.statY
    }
  };
  new Chart(addCanvas(), {type: 'scatter', data: {datasets}, options: opt, plugins: [panelText]});
}

// row 1
violinPanel({title: 'FGG', titleY: 23, box: {l: 62, t: 50, r: 263, b: 182}, xr: [0.4, 2.47], yr: [-0.29, 5.12],
  yTicks: [0, 1, 2, 3, 4, 5], yLabels: true, yPad: 2, pctPad: 6, pct: fggPct, bracket: [3.85, 3.68],
  redY: fggRedY, redW: fggRedW, tealY: fggTealY, tealW: fggTealW, redPts: fggRedPts, tealPts: fggTealPts, tealRed: fggTealRed});
scatterPanel({box: {l: 312, t: 15, r: 567, b: 183}, xr: [-0.2, 4.57], yr: [-0.17, 3.88], yTicks: [0, 1, 2, 3],
  pts: fggScatter, fit: fggFit, stat: fggStat, statX: 332, statY: 27, yTitle: 'FGG', yTitleX: 292, xTitleY: 208});
violinPanel({title: 'SERPINA1', titleY: 23, box: {l: 603, t: 37, r: 807, b: 182}, xr: [0.37, 2.71], yr: [-0.31, 5.25],
  yTicks: [0, 1, 2, 3, 4, 5], yLabels: false, yPad: 2, pctPad: 6, pct: serpPct, bracket: [4.01, 3.9],
  redY: serpRedY, redW: serpRedW, tealY: serpTealY, tealW: serpTealW, redPts: serpRedPts, tealPts: serpTealPts, tealRed: serpTealRed});
scatterPanel({box: {l: 850, t: 14, r: 1103, b: 181}, xr: [-0.2, 4.46], yr: [-0.2, 4.05], yTicks: [0, 1, 2, 3, 4],
  pts: serpScatter, fit: serpFit, stat: serpStat, statX: 870, statY: 27, yTitle: 'SERPINA1', yTitleX: 832, xTitleY: 208});

// row 2
violinPanel({title: 'GSTA1', titleY: 257, box: {l: 62, t: 270, r: 267, b: 403}, xr: [0.39, 2.47], yr: [-0.29, 6.14],
  yTicks: [0, 2, 4, 6], yLabels: true, yPad: 2, pctPad: 3, pct: gsta1Pct, bracket: [5.18, 5.0],
  redY: gsta1RedY, redW: gsta1RedW, tealY: gsta1TealY, tealW: gsta1TealW, redPts: gsta1RedPts, tealPts: gsta1TealPts, tealRed: gsta1TealRed});
scatterPanel({box: {l: 312, t: 238, r: 568, b: 405}, xr: [-0.2, 4.57], yr: [-0.27, 5.37], yTicks: [0, 1, 2, 3, 4, 5],
  pts: gsta1Scatter, fit: gsta1Fit, stat: gsta1Stat, statX: 328, statY: 250, yTitle: 'GSTA1', yTitleX: 293, xTitleY: 420});
violinPanel({title: 'GSTA2', titleY: 262, box: {l: 604, t: 270, r: 807, b: 402}, xr: [0.4, 2.49], yr: [-0.24, 6.14],
  yTicks: [0, 2, 4, 6], yLabels: false, yPad: 2, pctPad: 2, pct: gsta2Pct, bracket: [4.69, 4.55],
  redY: gsta2RedY, redW: gsta2RedW, tealY: gsta2TealY, tealW: gsta2TealW, redPts: gsta2RedPts, tealPts: gsta2TealPts, tealRed: gsta2TealRed});
scatterPanel({box: {l: 848, t: 240, r: 1103, b: 403}, xr: [-0.24, 4.46], yr: [-0.21, 4.73], yTicks: [0, 1, 2, 3, 4],
  pts: gsta2Scatter, fit: gsta2Fit, stat: gsta2Stat, statX: 863, statY: 250, yTitle: 'GSTA2', yTitleX: 832, xTitleY: 422});

// row 3
violinPanel({title: 'APOC1', titleY: 483, box: {l: 62, t: 502, r: 262, b: 636}, xr: [0.39, 2.42], yr: [-0.34, 6.25],
  yTicks: [0, 2, 4, 6], yLabels: true, yPad: 2, pctPad: 2, pct: apocPct, bracket: [5.2, 5.05],
  redY: apocRedY, redW: apocRedW, tealY: apocTealY, tealW: apocTealW, redPts: apocRedPts, tealPts: apocTealPts, tealRed: apocTealRed});
scatterPanel({box: {l: 312, t: 472, r: 568, b: 637}, xr: [-0.2, 4.54], yr: [-0.26, 5.06], yTicks: [0, 1, 2, 3, 4, 5],
  pts: apocScatter, fit: apocFit, stat: apocStat, statX: 328, statY: 487, yTitle: 'APOC1', yTitleX: 293, xTitleY: 658});
violinPanel({title: 'ORM1', titleY: 478, box: {l: 609, t: 500, r: 805, b: 639}, xr: [0.4, 2.47], yr: [-0.28, 5.24],
  yTicks: [0, 1, 2, 3, 4, 5], yLabels: true, yPad: 10, pctPad: 2, pct: ormPct, bracket: [4.73, 4.6],
  redY: ormRedY, redW: ormRedW, tealY: ormTealY, tealW: ormTealW, redPts: ormRedPts, tealPts: ormTealPts, tealRed: ormTealRed});
scatterPanel({box: {l: 849, t: 475, r: 1103, b: 639}, xr: [-0.24, 4.5], yr: [-0.21, 4.71], yTicks: [0, 1, 2, 3, 4],
  pts: ormScatter, fit: ormFit, stat: ormStat, statX: 865, statY: 490, yTitle: 'ORM1', yTitleX: 832, xTitleY: 658});
</script>
</body>
</html>
